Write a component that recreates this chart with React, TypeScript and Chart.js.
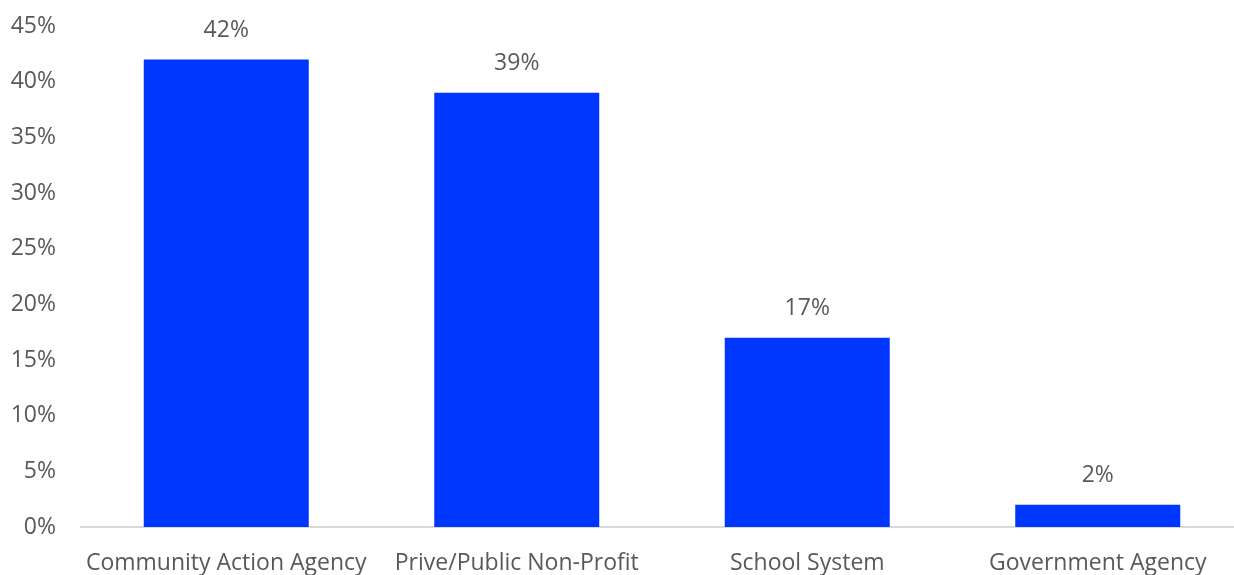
import React, { useEffect, useRef } from "react";
import { Chart, registerables } from "chart.js";

Chart.register(...registerables);

const categories = ["Community Action Agency", "Prive/Public Non-Profit", "School System", "Government Agency"];
const values = [42, 39, 17, 2];
const yMax = 45;
const yStep = 5;

const FONT = "'Open Sans', sans-serif";
const TEXT = "#595959";

const dataLabels = {
  id: "dataLabels",
  afterDatasetsDraw(chart: any) {
    const ctx = chart.ctx;
    const meta = chart.getDatasetMeta(0);
    ctx.save();
    ctx.font = `23px ${FONT}`;
    ctx.fillStyle = TEXT;
    ctx.textAlign = "center";
    ctx.textBaseline = "middle";
    meta.data.forEach((bar: any, i: number) => {
      ctx.fillText(`${values[i]}%`, bar.x, bar.y - 29);
    });
    ctx.restore();
  },
};

export default function App() {
  const ref = useRef<HTMLCanvasElement>(null);
  useEffect(() => {
    const chart = new Chart(ref.current!, {
      type: "bar",
      data: {
        labels: categories,
        datasets: [
          {
            data: values,
            backgroundColor: "#0037FF",
            borderWidth: 0,
            categoryPercentage: 1,
            barPercentage: 0.568,
          },
        ],
      },
      options: {
        animation: false,
        responsive: false,
        maintainAspectRatio: false,
        layout: { padding: { top: 26, right: 0, left: 0, bottom: 0 } },
        plugins: { legend: { display: false }, tooltip: { enabled: false } },
        scales: {
          x: {
            grid: { display: false, drawTicks: false },
            border: { display: true, color: "#d9d9d9", width: 2 },
            ticks: { color: TEXT, font: { family: FONT, size: 23 }, padding: 23, maxRotation: 0, autoSkip: false },
            afterFit: (s: any) => { s.height = 48; s.paddingLeft = 0; s.paddingRight = 0; },
          },
          y: {
            min: 0,
            max: yMax,
            grid: { display: false, drawTicks: false },
            border: { display: false },
            ticks: {
              stepSize: yStep,
              color: TEXT,
              font: { family: FONT, size: 23 },
              padding: 25,
              callback: (v: any) => `${v}%`,
            },
            afterFit: (s: any) => { s.width = 81; s.paddingTop = 0; s.paddingBottom = 0; },
          },
        },
      },
      plugins: [dataLabels],
    });
    return () => chart.destroy();
  }, []);
  return (
    <div style={{ position: "absolute", left: 0, top: 0, width: 1243, height: 575, overflow: "hidden" }}>
      <canvas ref={ref} width={1243} height={575} style={{ width: 1243, height: 575, display: "block" }} />
    </div>
  );
}
